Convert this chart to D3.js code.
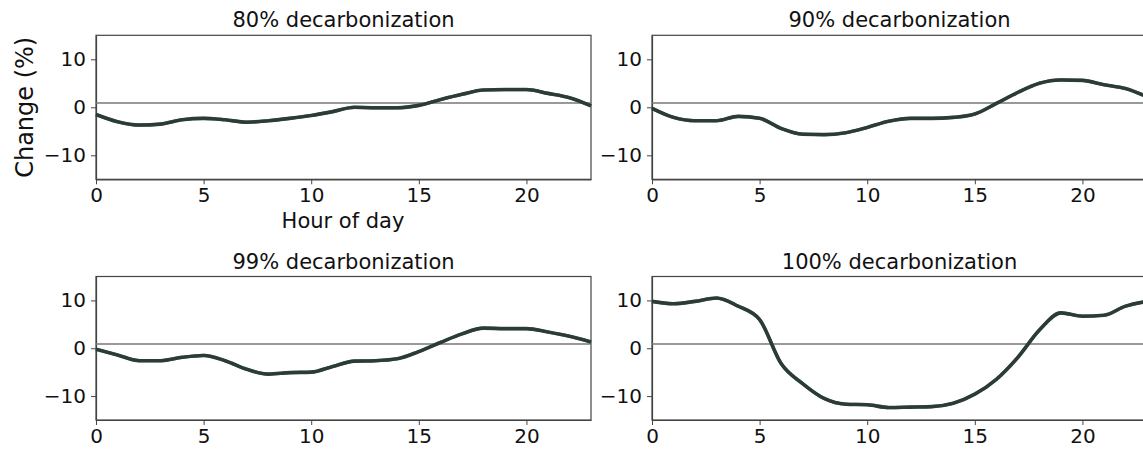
<!DOCTYPE html>
<html>
<head>
<meta charset="utf-8">
<script src="https://cdn.jsdelivr.net/npm/d3@7"></script>
<style>
  body { margin: 0; background: #fff; }
  svg { display: block; font-family: "DejaVu Sans", sans-serif; }
  .axis path, .axis line { stroke: #444; }
  .axis text { fill: #111; }
</style>
</head>
<body>
<div id="chart"></div>
<script>
// hour of day 0..23
const hours = d3.range(0, 24);

const titles = ["80% decarbonization", "90% decarbonization", "99% decarbonization", "100% decarbonization"];

const dec80 = [-1.5, -3.0, -3.7, -3.5, -2.6, -2.3, -2.6, -3.1, -2.8, -2.3, -1.7, -0.9,
               0.0, -0.1, -0.1, 0.4, 1.6, 2.7, 3.6, 3.7, 3.7, 2.9, 2.0, 0.3];
const dec90 = [-0.2, -2.1, -2.8, -2.8, -1.9, -2.3, -4.4, -5.6, -5.7, -5.3, -4.2, -2.9,
               -2.3, -2.3, -2.1, -1.4, 0.8, 3.1, 5.0, 5.7, 5.6, 4.7, 3.9, 2.2];
const dec99 = [-0.2, -1.4, -2.6, -2.6, -1.9, -1.5, -2.6, -4.4, -5.4, -5.1, -5.0, -3.8,
               -2.7, -2.6, -2.2, -0.7, 1.2, 3.0, 4.2, 4.1, 4.1, 3.4, 2.5, 1.3];
const dec100 = [9.8, 9.3, 9.8, 10.5, 8.8, 6.0, -3.2, -7.4, -10.5, -11.7, -11.8, -12.4,
                -12.3, -12.2, -11.5, -9.6, -6.5, -1.9, 3.8, 7.4, 6.7, 6.9, 8.8, 9.8];

const xTicks = [0, 5, 10, 15, 20];
const yTicks = [-10, 0, 10];
const refLevel = 0.9;   // thin horizontal reference line

const W = 1143, H = 451;
const svg = d3.select("#chart").append("svg")
    .attr("width", W)
    .attr("height", H);

// panel frames (left, top, width, height)
const panels = [
    {x: 96, y: 35.3, w: 495, h: 144, data: dec80, title: titles[0], xlabel: true, ylabel: true},
    {x: 652, y: 35.3, w: 495, h: 144, data: dec90, title: titles[1]},
    {x: 96, y: 276.5, w: 495, h: 143.5, data: dec99, title: titles[2]},
    {x: 652, y: 276.5, w: 495, h: 143.5, data: dec100, title: titles[3]}
];

panels.forEach(function(p) {
    let g = svg.append("g").attr("transform", `translate(${p.x},${p.y})`);

    let x = d3.scaleLinear().domain([0, 23]).range([0, p.w]);
    let y = d3.scaleLinear().domain([-15, 15]).range([p.h, 0]);

    // axes
    g.append("g")
        .attr("class", "axis")
        .attr("transform", `translate(0,${p.h})`)
        .call(d3.axisBottom(x).tickValues(xTicks).tickSize(5).tickPadding(4).tickSizeOuter(0))
        .selectAll("text").attr("font-size", "20px").attr("font-family", "DejaVu Sans");
    g.append("g")
        .attr("class", "axis")
        .call(d3.axisLeft(y).tickValues(yTicks).tickSize(5).tickPadding(5).tickSizeOuter(0)
            .tickFormat(d => d < 0 ? "\u2212" + Math.abs(d) : d))
        .selectAll("text").attr("font-size", "20px").attr("font-family", "DejaVu Sans");

    // box
    g.append("rect")
        .attr("width", p.w)
        .attr("height", p.h)
        .attr("fill", "none")
        .attr("stroke", "#444")
        .attr("stroke-width", 1.2);
    g.selectAll(".axis path").attr("stroke-width", 1.2);

    // reference line
    g.append("line")
        .attr("x1", 0).attr("x2", p.w)
        .attr("y1", y(refLevel)).attr("y2", y(refLevel))
        .attr("stroke", "#777")
        .attr("stroke-width", 1.5);

    let line = d3.line()
        .x((d, i) => x(hours[i]))
        .y(d => y(d))
        .curve(d3.curveMonotoneX);

    g.append("path")
        .datum(p.data)
        .attr("fill", "none")
        .attr("stroke", "#1d5e45")
        .attr("stroke-width", 3.6)
        .attr("d", line);
    g.append("path")
        .datum(p.data)
        .attr("fill", "none")
        .attr("stroke", "#333")
        .attr("stroke-opacity", 0.85)
        .attr("stroke-width", 3.2)
        .attr("d", line);

    // title
    g.append("text")
        .attr("x", p.w / 2)
        .attr("y", -8)
        .attr("text-anchor", "middle")
        .attr("font-size", "21px")
        .attr("fill", "#111")
        .text(p.title);

    if (p.xlabel) {
        g.append("text")
            .attr("x", 247)
            .attr("y", p.h + 49)
            .attr("text-anchor", "middle")
            .attr("font-size", "21px")
            .attr("fill", "#111")
            .text("Hour of day");
    }
    if (p.ylabel) {
        g.append("text")
            .attr("transform", `translate(-63,${y(0)}) rotate(-90)`)
            .attr("text-anchor", "middle")
            .attr("font-size", "24px")
            .attr("fill", "#111")
            .text("Change (%)");
    }
});
</script>
</body>
</html>
